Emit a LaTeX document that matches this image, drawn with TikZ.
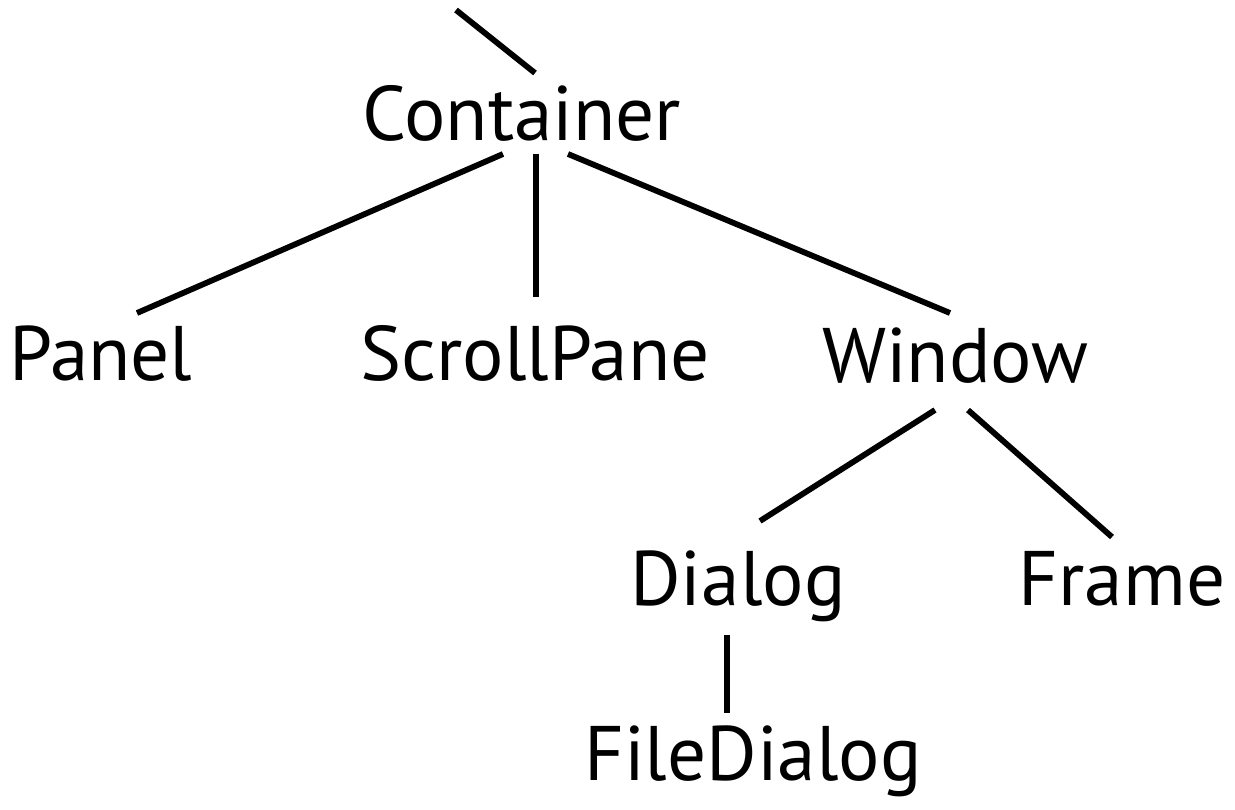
\documentclass[tikz,border=0pt]{standalone}
\usepackage{fontspec}
\setmainfont{PT Sans}
\usetikzlibrary{positioning}

\begin{document}
\begin{tikzpicture}[x=0.02cm,y=-0.02cm,
    cls/.style={anchor=base,inner sep=0pt,font=\fontsize{44}{52}\selectfont},
    link/.style={line width=3.3pt}]

                % Frame of the picture
                \useasboundingbox (0,0) rectangle (1235,809);

                % Classes
                \node[cls] (container) at (522,140) {Container};
                \node[cls] (panel) at (101,380) {Panel};
                \node[cls] (scrollpane) at (535,380) {ScrollPane};
                \node[cls] (window) at (955,382) {Window};
                \node[cls] (dialog) at (738,605) {Dialog};
                \node[cls] (frame) at (1122,605) {Frame};
                \node[cls] (filedialog) at (753,780) {FileDialog};

                % Link to the parent class
                \coordinate (parent) at (456,10);
                \draw [link] (parent) -- ([shift={(13,-67)}]container.base);

                % Container and its subclasses
                \draw [link] ([shift={(-19,14)}]container.base) -- ([shift={(36,-67)}]panel.base);
                \draw [link] ([shift={(14,14)}]container.base) -- ([shift={(1,-83)}]scrollpane.base);
                \draw [link] ([shift={(46,14)}]container.base) -- ([shift={(-5,-69)}]window.base);

                % Window and its subclasses
                \draw [link] ([shift={(-20,28)}]window.base) -- ([shift={(22,-84)}]dialog.base);
                \draw [link] ([shift={(13,28)}]window.base) -- ([shift={(-10,-68)}]frame.base);

                %Join the dialog and file dialog
                \draw [link] ([shift={(-11,30)}]dialog.base) -- ([shift={(-26,-67)}]filedialog.base);

            \end{tikzpicture}
\end{document}
